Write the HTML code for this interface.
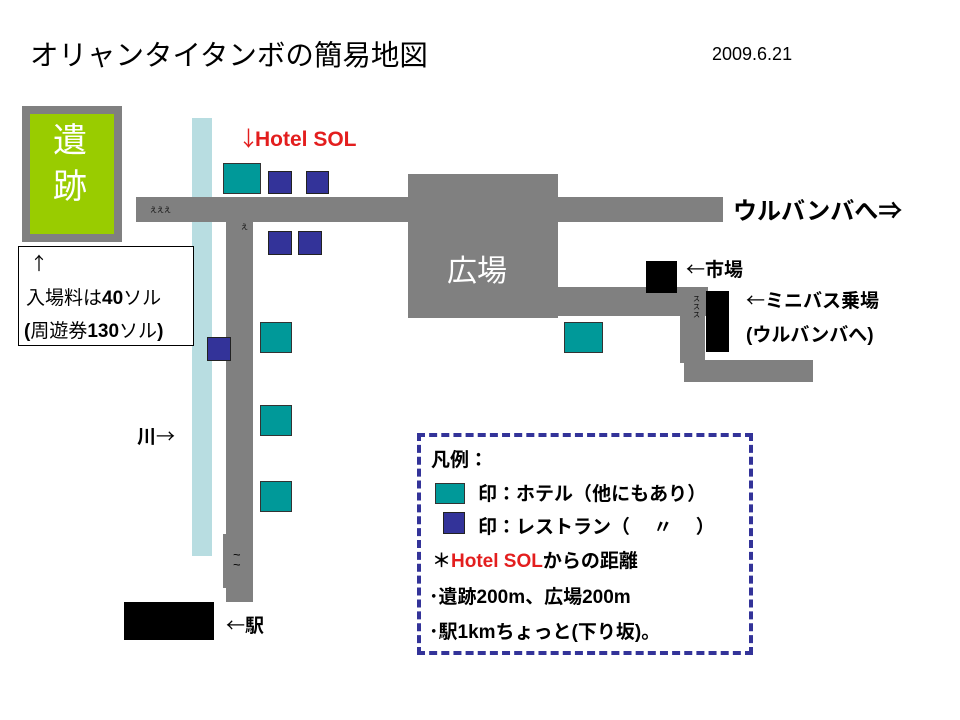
<!DOCTYPE html>
<html><head><meta charset="utf-8"><style>
body{margin:0;width:960px;height:720px;background:#fff;position:relative;overflow:hidden;font-family:"Liberation Sans","Noto Sans CJK JP",sans-serif}
.a{position:absolute}
.g{position:absolute;background:#808080}
.t{position:absolute;background:#009999;border:1px solid #333}
.b{position:absolute;background:#333399;border:1px solid #222}
.k{position:absolute;background:#000}
.tx{position:absolute;white-space:nowrap;font-weight:bold;color:#000}
.j{font-family:"Noto Sans CJK JP",sans-serif}
</style></head><body>
<div class="tx" style="left:30px;top:33px;font-size:28.5px;font-weight:normal">オリャンタイタンボの簡易地図</div>
<div class="tx" style="left:712px;top:44px;font-size:18px;font-weight:normal">2009.6.21</div>

<div class="a" style="left:192px;top:118px;width:20px;height:438px;background:#b8dde1"></div>
<div class="g" style="left:136px;top:197px;width:587px;height:25px"></div>
<div class="g" style="left:226px;top:222px;width:27px;height:380px"></div>
<div class="g" style="left:223px;top:534px;width:10px;height:54px"></div>
<div class="tx" style="left:233px;top:550px;font-size:13px;font-weight:normal;line-height:10px">~<br>~</div>
<div class="tx" style="left:150px;top:205px;font-size:7px;font-weight:normal">えええ</div>
<div class="tx" style="left:241px;top:222px;font-size:7px;font-weight:normal">え</div>
<div class="g" style="left:408px;top:174px;width:150px;height:144px"></div>
<div class="tx" style="left:447px;top:246px;font-size:30px;color:#fff;font-weight:normal">広場</div>
<div class="g" style="left:558px;top:287px;width:150px;height:29px"></div>
<div class="g" style="left:680px;top:290px;width:25px;height:73px"></div>
<div class="g" style="left:684px;top:360px;width:129px;height:22px"></div>
<div class="tx" style="left:693px;top:296px;font-size:7px;font-weight:normal;line-height:8px">ス<br>ス<br>ス</div>
<div class="k" style="left:706px;top:291px;width:23px;height:61px"></div>
<div class="k" style="left:646px;top:261px;width:31px;height:32px"></div>
<div class="k" style="left:124px;top:602px;width:90px;height:38px"></div>

<div class="a" style="left:22px;top:106px;width:100px;height:136px;background:#808080"></div>
<div class="a" style="left:30px;top:114px;width:84px;height:120px;background:#99cc00"></div>
<div class="tx" style="left:53px;top:118px;font-size:34px;color:#fff;font-weight:normal;line-height:46px">遺<br>跡</div>
<div class="a" style="left:18px;top:246px;width:174px;height:98px;border:1px solid #000;background:#fff"></div>
<div class="tx j" style="left:30px;top:250px;font-size:18px;font-weight:normal">↑</div>
<div class="tx" style="left:26px;top:283px;font-size:19px;font-weight:normal">入場料は<b>40</b>ソル</div>
<div class="tx" style="left:24px;top:316px;font-size:19px;font-weight:normal"><b>(</b>周遊券<b>130</b>ソル<b>)</b></div>

<div class="t" style="left:223px;top:163px;width:36px;height:29px"></div>
<div class="b" style="left:268px;top:171px;width:22px;height:21px"></div>
<div class="b" style="left:306px;top:171px;width:21px;height:21px"></div>
<div class="b" style="left:268px;top:231px;width:22px;height:22px"></div>
<div class="b" style="left:298px;top:231px;width:22px;height:22px"></div>
<div class="b" style="left:207px;top:337px;width:22px;height:22px"></div>
<div class="t" style="left:260px;top:322px;width:30px;height:29px"></div>
<div class="t" style="left:260px;top:405px;width:30px;height:29px"></div>
<div class="t" style="left:260px;top:481px;width:30px;height:29px"></div>
<div class="t" style="left:564px;top:322px;width:37px;height:29px"></div>

<div class="tx" style="left:238px;top:123px;font-size:21px;color:#e31e1e"><span class="j" style="font-weight:normal;margin-right:-4px">↓</span>Hotel SOL</div>
<div class="tx" style="left:733px;top:191px;font-size:24px">ウルバンバへ<span class="j">⇒</span></div>
<div class="tx" style="left:686px;top:255px;font-size:19px"><span class="j" style="font-weight:normal">←</span>市場</div>
<div class="tx" style="left:746px;top:286px;font-size:19px"><span class="j" style="font-weight:normal">←</span>ミニバス乗場</div>
<div class="tx" style="left:746px;top:320px;font-size:19px">(ウルバンバへ)</div>
<div class="tx" style="left:137px;top:422px;font-size:19px">川<span class="j" style="font-weight:normal">→</span></div>
<div class="tx" style="left:226px;top:611px;font-size:19px"><span class="j" style="font-weight:normal">←</span>駅</div>

<div class="a" style="left:417px;top:433px;width:328px;height:214px;border:4px dashed #333399"></div>
<div class="tx" style="left:431px;top:445px;font-size:19px">凡例<span class="j">：</span></div>
<div class="t" style="left:435px;top:483px;width:28px;height:19px"></div>
<div class="tx" style="left:478px;top:479px;font-size:19px">印<span class="j">：</span>ホテル<span class="j">（</span>他にもあり<span class="j">）</span></div>
<div class="b" style="left:443px;top:512px;width:20px;height:20px"></div>
<div class="tx" style="left:478px;top:512px;font-size:19px">印<span class="j">：</span>レストラン<span class="j">（　 〃　 ）</span></div>
<div class="tx" style="left:432px;top:546px;font-size:19px"><span class="j">＊</span><span style="color:#e31e1e">Hotel SOL</span>からの距離</div>
<div class="tx" style="left:429px;top:582px;font-size:19px"><span class="j">･</span>遺跡200m、広場200m</div>
<div class="tx" style="left:429px;top:617px;font-size:19px"><span class="j">･</span>駅1kmちょっと(下り坂)。</div>
</body></html>
